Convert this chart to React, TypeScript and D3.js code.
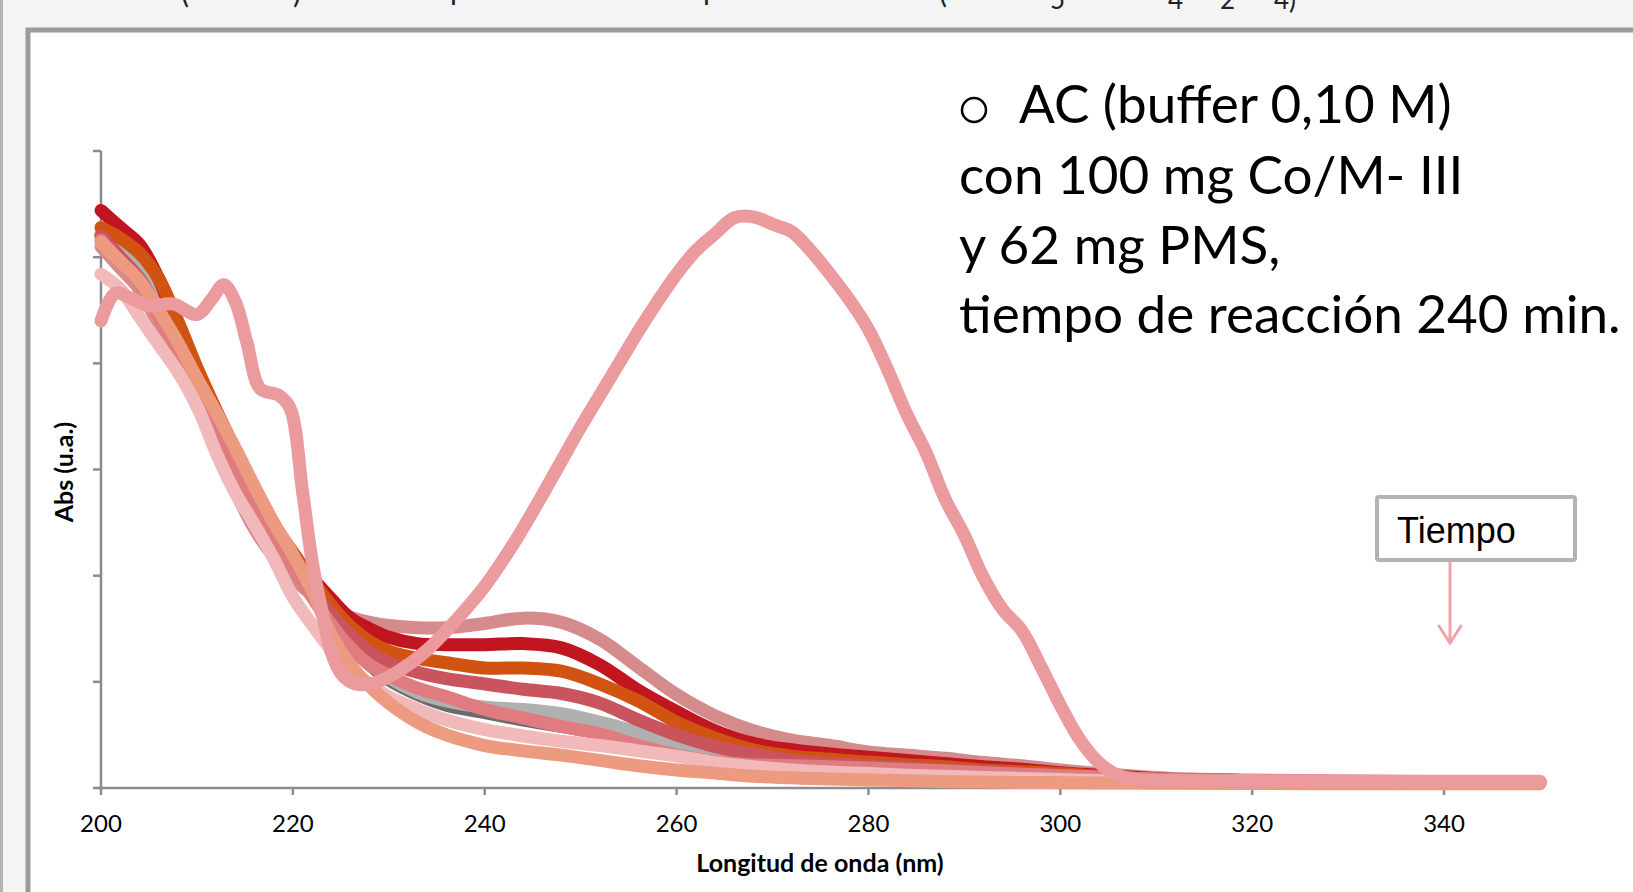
import React from 'react';
import * as d3 from 'd3';

// Wavelength grid (nm) shared by the kinetic series
const wavelengths = [200, 202, 204, 206, 208, 210, 212, 214, 216, 218, 220, 222, 224, 226, 228, 230, 233, 236, 240, 244,
  248, 252, 256, 260, 264, 268, 272, 276, 280, 284, 288, 292, 296, 300, 304, 308, 312, 320, 330, 340, 350];

// Absorbance series (u.a.)
const absDarkGray = [2.60, 2.52, 2.43, 2.28, 2.10, 1.90, 1.72, 1.53, 1.35, 1.19, 1.05, 0.91, 0.79, 0.68, 0.58, 0.51, 0.44, 0.39, 0.355, 0.32,
  0.29, 0.26, 0.225, 0.18, 0.15, 0.125, 0.11, 0.10, 0.09, 0.082, 0.075, 0.068, 0.062, 0.055, 0.048, 0.042, 0.038, 0.032, 0.028, 0.026, 0.025];
const absLightGray = [2.61, 2.53, 2.44, 2.29, 2.11, 1.91, 1.73, 1.54, 1.36, 1.20, 1.06, 0.92, 0.80, 0.69, 0.59, 0.52, 0.45, 0.41, 0.38, 0.37,
  0.35, 0.31, 0.26, 0.19, 0.15, 0.125, 0.11, 0.10, 0.09, 0.082, 0.075, 0.068, 0.062, 0.055, 0.048, 0.042, 0.038, 0.032, 0.028, 0.026, 0.025];
const absDustyRose = [2.55, 2.45, 2.35, 2.18, 1.98, 1.80, 1.62, 1.40, 1.22, 1.09, 0.99, 0.91, 0.85, 0.805, 0.78, 0.765, 0.755, 0.755, 0.775, 0.80,
  0.78, 0.70, 0.57, 0.44, 0.34, 0.27, 0.225, 0.20, 0.17, 0.155, 0.14, 0.12, 0.105, 0.085, 0.068, 0.055, 0.045, 0.038, 0.033, 0.030, 0.030];
const absDarkRed = [2.72, 2.64, 2.56, 2.40, 2.17, 1.96, 1.76, 1.57, 1.38, 1.22, 1.10, 0.99, 0.89, 0.80, 0.75, 0.71, 0.68, 0.675, 0.675, 0.68,
  0.66, 0.58, 0.46, 0.36, 0.27, 0.21, 0.18, 0.16, 0.145, 0.13, 0.115, 0.10, 0.088, 0.072, 0.06, 0.05, 0.04, 0.035, 0.03, 0.028, 0.027];
const absOrange = [2.64, 2.59, 2.52, 2.40, 2.20, 1.98, 1.78, 1.59, 1.40, 1.24, 1.11, 0.98, 0.86, 0.76, 0.69, 0.645, 0.61, 0.59, 0.565, 0.565,
  0.55, 0.49, 0.41, 0.31, 0.235, 0.18, 0.15, 0.135, 0.122, 0.11, 0.10, 0.085, 0.077, 0.068, 0.055, 0.045, 0.038, 0.032, 0.028, 0.026, 0.025];
const absRedPink = [2.60, 2.50, 2.40, 2.24, 2.07, 1.88, 1.72, 1.52, 1.34, 1.18, 1.05, 0.93, 0.82, 0.72, 0.64, 0.59, 0.545, 0.515, 0.49, 0.465,
  0.445, 0.40, 0.32, 0.25, 0.195, 0.16, 0.13, 0.115, 0.105, 0.095, 0.085, 0.077, 0.07, 0.06, 0.052, 0.045, 0.04, 0.034, 0.03, 0.028, 0.027];
const absSalmonPink = [2.58, 2.48, 2.38, 2.22, 2.06, 1.87, 1.72, 1.52, 1.33, 1.17, 1.04, 0.90, 0.77, 0.66, 0.58, 0.53, 0.47, 0.43, 0.37, 0.33,
  0.29, 0.255, 0.20, 0.155, 0.125, 0.11, 0.105, 0.10, 0.094, 0.087, 0.08, 0.072, 0.065, 0.058, 0.052, 0.045, 0.04, 0.035, 0.031, 0.029, 0.028];
const absLightPink = [2.42, 2.35, 2.22, 2.09, 1.96, 1.80, 1.58, 1.39, 1.24, 1.08, 0.90, 0.77, 0.65, 0.56, 0.49, 0.43, 0.37, 0.32, 0.275, 0.245,
  0.22, 0.20, 0.175, 0.15, 0.12, 0.10, 0.085, 0.075, 0.068, 0.06, 0.055, 0.05, 0.045, 0.04, 0.035, 0.032, 0.03, 0.027, 0.025, 0.024, 0.023];
const absSalmonOrange = [2.57, 2.48, 2.39, 2.25, 2.10, 1.93, 1.77, 1.60, 1.42, 1.25, 1.10, 0.93, 0.72, 0.58, 0.48, 0.40, 0.31, 0.25, 0.20, 0.175,
  0.155, 0.13, 0.105, 0.085, 0.07, 0.055, 0.048, 0.042, 0.038, 0.034, 0.03, 0.028, 0.026, 0.025, 0.024, 0.023, 0.022, 0.021, 0.02, 0.02, 0.02];

// The 240 min spectrum, with its own finer grid
const peakWavelengths = [200, 201.5, 203, 205, 207.5, 210, 211.5, 212.8, 214, 215.2, 216.6, 218.5, 219.7, 221, 222, 223, 224, 225, 226.5, 228.5,
  231, 234, 237, 240, 243, 246, 250, 252, 254, 256, 258, 260, 262, 264, 266, 268, 270, 272, 274, 276,
  278, 280, 282, 284, 286, 288, 290, 292, 294, 296, 298, 300, 302, 304, 306, 308, 312, 320, 330, 340, 350];
const absPeak = [2.20, 2.33, 2.31, 2.27, 2.28, 2.23, 2.30, 2.37, 2.29, 2.10, 1.88, 1.85, 1.79, 1.40, 1.07, 0.84, 0.64, 0.54, 0.49, 0.495,
  0.55, 0.65, 0.79, 0.95, 1.15, 1.38, 1.70, 1.85, 2.00, 2.15, 2.29, 2.42, 2.53, 2.61, 2.685, 2.69, 2.655, 2.62, 2.53, 2.42,
  2.30, 2.16, 1.97, 1.76, 1.58, 1.36, 1.19, 0.99, 0.84, 0.74, 0.57, 0.39, 0.23, 0.12, 0.06, 0.04, 0.035, 0.035, 0.033, 0.032, 0.032];

const xTicks = [200, 220, 240, 260, 280, 300, 320, 340];
const yTicks = [0, 0.5, 1, 1.5, 2, 2.5, 3];
const noteLines = ['AC (buffer 0,10 M)', 'con 100 mg Co/M- III', 'y 62 mg PMS,', 'tiempo de reacción 240 min.'];

const W = 1633;
const H = 892;
const lineWidth = 13;
const calibri = 'Lato, "Open Sans", sans-serif';

// drawing order, bottom to top
const series = [
  { values: absDarkGray, color: '#6b6b6b' },
  { values: absLightGray, color: '#b0b0b0' },
  { values: absDustyRose, color: '#d58a8c' },
  { values: absDarkRed, color: '#c1161f' },
  { values: absOrange, color: '#d15312' },
  { values: absRedPink, color: '#c9545e' },
  { values: absSalmonPink, color: '#e07c80' },
  { values: absLightPink, color: '#f1b9b9' },
  { values: absSalmonOrange, color: '#ec9a80' },
];

const App: React.FC = () => {
  const x = d3.scaleLinear().domain([200, 350]).range([101, 1540]);
  const y = d3.scaleLinear().domain([0, 3]).range([788, 151]);

  const line = d3.line<[number, number]>()
    .x((d) => x(d[0]))
    .y((d) => y(d[1]))
    .curve(d3.curveCatmullRom.alpha(0.5));

  const paths = series.map((s) => ({
    color: s.color,
    d: line(wavelengths.map((w, i) => [w, s.values[i]] as [number, number])) ?? '',
  }));
  const peakPath = line(peakWavelengths.map((w, i) => [w, absPeak[i]] as [number, number])) ?? '';

  const x0 = x(200);
  const yBase = y(0);

  return (
    <div style={{ position: 'absolute', left: 0, top: 0 }}>
      <svg width={W} height={H} style={{ display: 'block' }}>
        {/* slide background and frame, with the bottom of the cut-off slide title */}
        <rect x={0} y={0} width={W} height={H} fill="#f4f4f4" />
        <rect x={0} y={0} width={3} height={H} fill="#b3b3b3" />
        <g fontFamily={calibri} fontSize={30} fill="#222">
          <text x={181} y={3}>(</text>
          <text x={293} y={3}>)</text>
          <text x={450} y={0}>p</text>
          <text x={703} y={0}>p</text>
          <text x={939} y={3}>(</text>
          <text x={1050} y={9} fontSize={26}>5</text>
          <text x={1168} y={9} fontSize={26}>4</text>
          <text x={1220} y={9} fontSize={26}>2</text>
          <text x={1274} y={9} fontSize={26}>4)</text>
        </g>
        <rect x={28} y={30} width={W} height={H} fill="#ffffff" stroke="#9b9b9b" strokeWidth={5} />

        {/* axes */}
        <g stroke="#8c8c8c" strokeWidth={2.5} fill="none">
          <line x1={x0} x2={x0} y1={y(3)} y2={yBase} />
          {yTicks.map((t) => (
            <line key={t} x1={x0 - 8} x2={x0} y1={y(t)} y2={y(t)} />
          ))}
          <line x1={x0 - 4} x2={x(350)} y1={yBase} y2={yBase} />
          {xTicks.map((t) => (
            <line key={t} x1={x(t)} x2={x(t)} y1={yBase} y2={yBase + 7} />
          ))}
        </g>

        {/* spectra */}
        <g fill="none" strokeWidth={lineWidth} strokeLinejoin="round" strokeLinecap="round">
          {paths.map((p, i) => (
            <path key={i} d={p.d} stroke={p.color} />
          ))}
          <path d={peakPath} stroke="#eb9a9e" />
        </g>

        {/* tick labels and titles */}
        <g fontFamily={calibri} fontSize={24} fill="#000" textAnchor="middle">
          {xTicks.map((t) => (
            <text key={t} x={x(t)} y={832}>{t}</text>
          ))}
        </g>
        <text x={820} y={872} textAnchor="middle" fontFamily={calibri} fontWeight="bold" fontSize={25}>
          Longitud de onda (nm)
        </text>
        <text
          transform="translate(73,472) rotate(-90)"
          textAnchor="middle"
          fontFamily={calibri}
          fontWeight="bold"
          fontSize={25}
        >
          Abs (u.a.)
        </text>

        {/* annotation */}
        <circle cx={974} cy={110} r={12} fill="none" stroke="#000" strokeWidth={2.5} />
        <g fontFamily={calibri} fontSize={53} fill="#000">
          <text x={1019} y={123}>{noteLines[0]}</text>
          <text x={959} y={194}>{noteLines[1]}</text>
          <text x={959} y={264}>{noteLines[2]}</text>
          <text x={959} y={333}>{noteLines[3]}</text>
        </g>

        {/* Tiempo legend */}
        <rect x={1377} y={497} width={198} height={63} rx={2} fill="#fff" stroke="#b3b3b3" strokeWidth={4} />
        <text x={1397} y={543} fontFamily='"Liberation Sans", Arial, sans-serif' fontSize={36} fill="#000">Tiempo</text>
        <g stroke="#f0a3a8" strokeWidth={3} fill="none" strokeLinecap="round">
          <line x1={1450} x2={1450} y1={563} y2={642} />
          <polyline points="1439,626 1450,643 1461,626" />
        </g>
      </svg>
    </div>
  );
};

export default App;
